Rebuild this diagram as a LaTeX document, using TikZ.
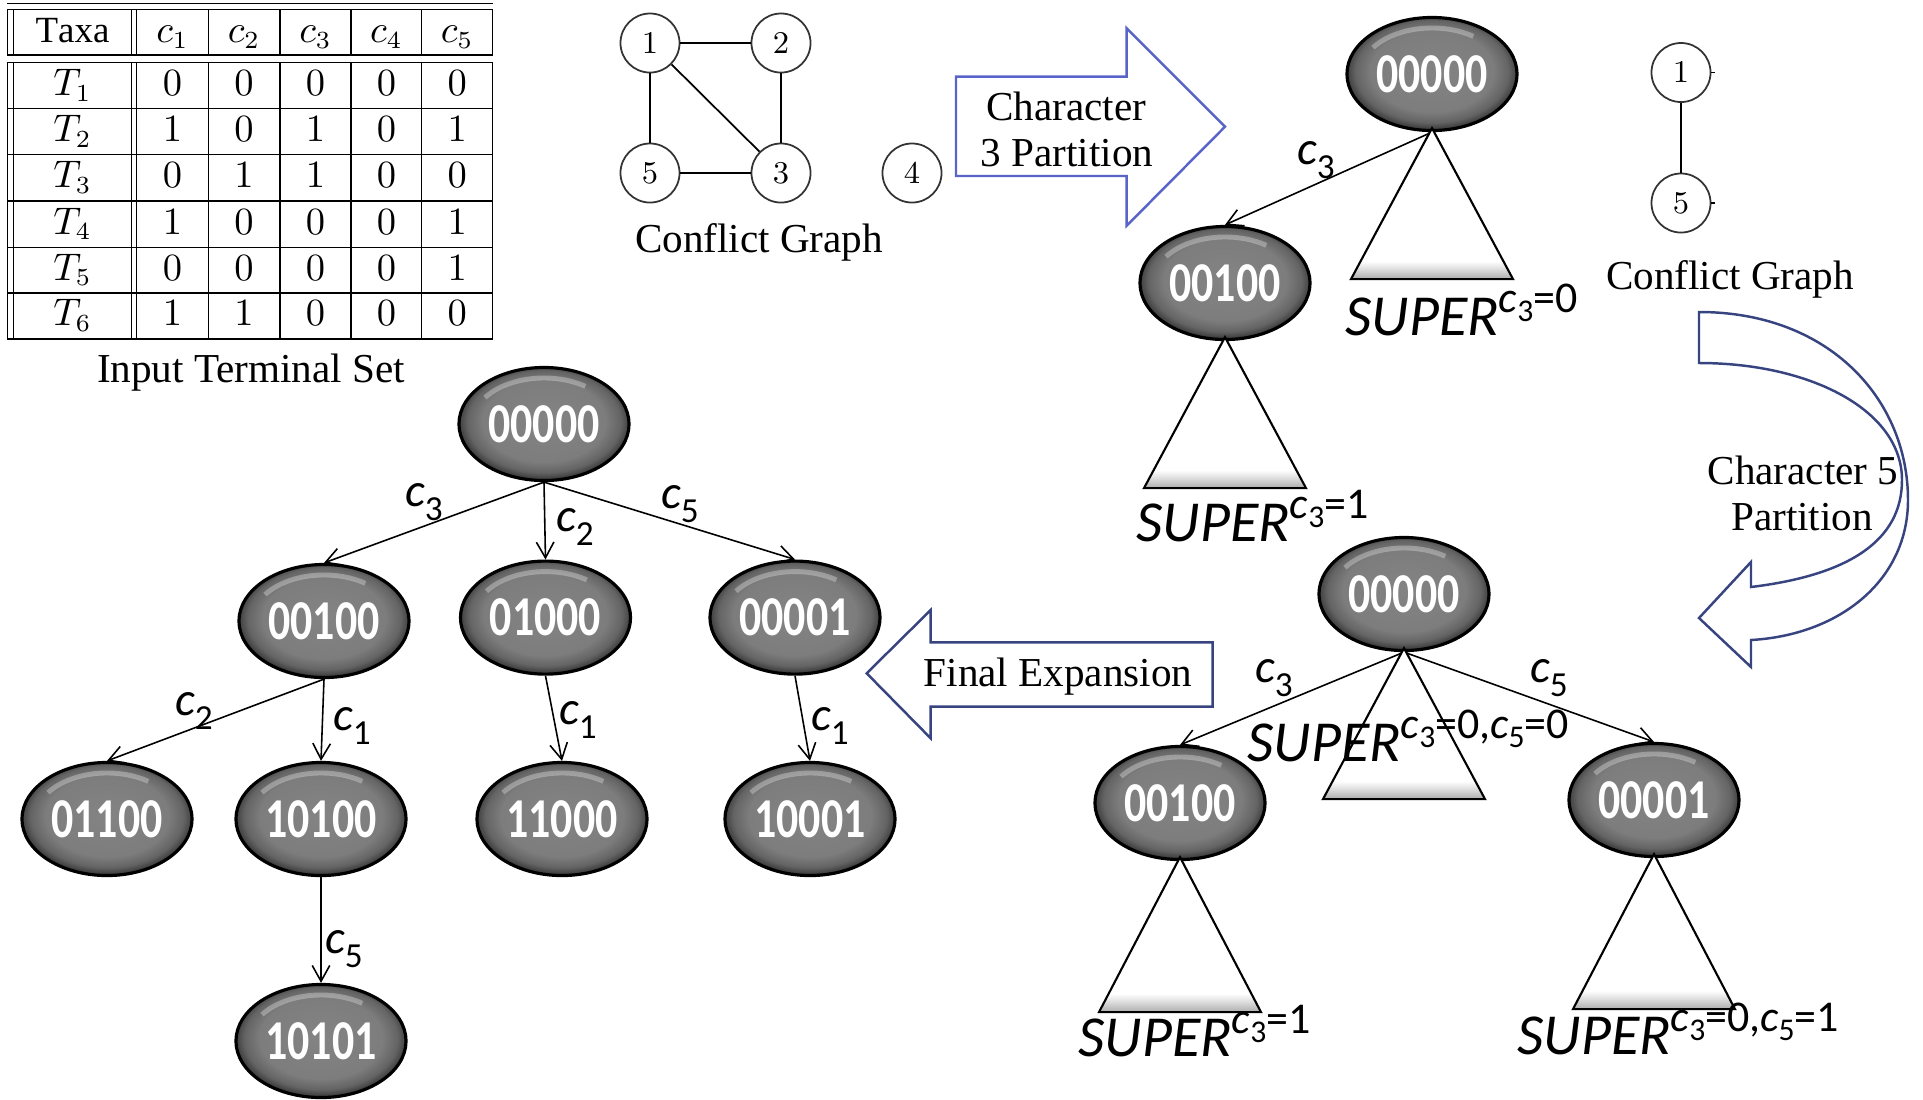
\documentclass[tikz,border=0pt]{standalone}
\usepackage{fontspec}
\setmainfont{Liberation Serif}
\newfontfamily\nodefont{Carlito}[FakeStretch=0.78]
\newfontfamily\labfont{Carlito}
\usetikzlibrary{shapes.geometric,arrows.meta,calc}
\definecolor{arrblue}{RGB}{88,100,200}
\definecolor{arrnavy}{RGB}{55,68,128}
\definecolor{nodegray}{RGB}{125,125,125}
\pgfdeclareradialshading{glossy}{\pgfpoint{0bp}{2bp}}{color(0bp)=(nodegray!95!white); color(18bp)=(nodegray); color(22.5bp)=(nodegray!80!black); color(25bp)=(black!75); color(27bp)=(black!85); color(50bp)=(black!85)}
\pgfdeclareverticalshading{tribase}{100bp}{color(0bp)=(gray!65); color(25bp)=(gray!65); color(28.5bp)=(gray!25); color(31bp)=(white); color(100bp)=(white)}
\newcommand{\clab}[1]{c\raisebox{-0.28em}{\fontsize{10}{10}\selectfont\upshape #1}}
\newcommand{\scc}[1]{{\itshape c}\raisebox{-0.22em}{\fontsize{9}{9}\selectfont #1}}
\newcommand{\superlab}[1]{{\itshape SUPER}\raisebox{6.5pt}{\fontsize{12.5}{12.5}\selectfont #1}}
\tikzset{
  gnode/.style={ellipse, draw=black, line width=0.9pt, minimum width=1.70cm, minimum height=1.13cm, inner sep=0pt,
    shade, shading=glossy, text=white, font=\nodefont\bfseries\fontsize{16}{16}\selectfont,
    path picture={\draw[white, opacity=0.3, line width=1.4pt] (path picture bounding box.center) ++(145:0.72cm and 0.46cm) arc[start angle=145, end angle=55, x radius=0.72cm, y radius=0.46cm];}},
  cnode/.style={circle, draw=black!80, line width=0.5pt, minimum size=0.59cm, inner sep=0pt, font=\fontsize{9}{9}\selectfont},
  cedge/.style={draw=black, line width=0.5pt},
  tedge/.style={draw=black, line width=0.45pt, -{Straight Barb[length=4.5pt,width=5pt]}},
  tri/.style={draw=black, line width=0.6pt, shade, shading=tribase},
  elab/.style={font=\labfont\itshape\fontsize{13.5}{13.5}\selectfont, inner sep=0pt},
  slab/.style={font=\labfont\fontsize{16.5}{16.5}\selectfont, inner sep=0pt, anchor=base west},
  txt/.style={font=\fontsize{11.7}{14}\selectfont, inner sep=0pt, align=center},
  tline/.style={draw=black, line width=0.45pt},
  tcell/.style={font=\fontsize{10.5}{12}\selectfont, inner sep=0pt, anchor=base},
  blockarr/.style={draw=arrblue, fill=white, line width=0.7pt, line join=miter},
  curvarr/.style={draw=arrnavy, fill=white, line width=0.7pt, line join=miter},
}
\begin{document}
\begin{tikzpicture}[x=0.01cm,y=-0.01cm]
\useasboundingbox (0,0) rectangle (1923,1099);
% ---------------- table ----------------
\foreach \yy in {3.3,9.3,55,62.5,108.3,154.3,201,247.3,292.7,339}
  \draw[tline] (7.3,\yy) -- (492.7,\yy);
\foreach \xx in {7.3,13.3,131.7,136.7,208.3,280,351,421.7,492.7} {
  \draw[tline] (\xx,9.3) -- (\xx,55);
  \draw[tline] (\xx,62.5) -- (\xx,339);
}
\node[tcell] (htaxa) at (72.5,42.5) {$\mathrm{Taxa}$};
\foreach \cx [count=\i] in {172.5,244,315.5,386.4,457.2}
  \node[tcell] (hc\i) at (\cx,42.5) {$c_{\i}$};
\foreach \yy/\va/\vb/\vc/\vd/\ve [count=\r] in {95.4/0/0/0/0/0, 141.3/1/0/1/0/1, 187.7/0/1/1/0/0, 234.2/1/0/0/0/1, 280/0/0/0/0/1, 325.9/1/1/0/0/0} {
  \node[tcell] (tt\r) at (72.5,\yy) {$T_{\r}$};
  \node[tcell] (ta\r) at (172.5,\yy) {$\va$};
  \node[tcell] (tb\r) at (244,\yy) {$\vb$};
  \node[tcell] (tc\r) at (315.5,\yy) {$\vc$};
  \node[tcell] (td\r) at (386.4,\yy) {$\vd$};
  \node[tcell] (te\r) at (457.2,\yy) {$\ve$};
}
\node[txt] (inset) at (251,373) {Input Terminal Set};
% ---------------- conflict graph 1 ----------------
\node[cnode] (n1) at (650,43) {$1$};
\node[cnode] (n2) at (781,43) {$2$};
\node[cnode] (n5) at (650,173) {$5$};
\node[cnode] (n3) at (781,173) {$3$};
\node[cnode] (n4) at (912,173) {$4$};
\draw[cedge] (n1) -- (n2);
\draw[cedge] (n1) -- (n5);
\draw[cedge] (n2) -- (n3);
\draw[cedge] (n5) -- (n3);
\draw[cedge] (n1) -- (n3);
\node[txt] (cg1) at (759,242) {Conflict Graph};
% ---------------- character 3 arrow ----------------
\draw[blockarr] (956,76.7) -- (1126.7,76.7) -- (1126.7,28.3) -- (1225,126.7) -- (1126.7,225.7) -- (1126.7,176) -- (956,176) -- cycle;
\node[txt] (c3a) at (1066,106) {Character};
\node[txt] (c3b) at (1067,153) {3 Partition};
% ---------------- top right tree ----------------
\node[gnode] (u0) at (1432,74) {00000};
\node[gnode] (u1) at (1225,283) {00100};
\draw[tedge] (u0.south) -- (u1.north);
\node[elab] (lu1) at (1316,160) {\clab{3}};
\draw[tri] ($(u0.south)+(0,-4)$) -- ++(81,151) -- ++(-162,0) -- cycle;
\draw[tri] ($(u1.south)+(0,-4)$) -- ++(81,151) -- ++(-162,0) -- cycle;
\node[slab] (su0) at (1345,335) {\superlab{\scc{3}=0}};
\node[slab] (su1) at (1136,541) {\superlab{\scc{3}=1}};
% ---------------- conflict graph 2 ----------------
\node[cnode] (m1) at (1681,72.5) {$1$};
\node[cnode] (m5) at (1681,203) {$5$};
\draw[cedge] (m1) -- (m5);
\draw[cedge] (m1.east) -- ++(4,0);
\draw[cedge] (m5.east) -- ++(4,0);
\node[txt] (cg2) at (1730,279) {Conflict Graph};
% ---------------- curved arrow ----------------
\draw[curvarr] (1699,312) .. controls (1830,312) and (1908,400) .. (1908,500)
  .. controls (1908,580) and (1840,635) .. (1751,640)
  -- (1751,667) -- (1699,618) -- (1751,562) -- (1751,587)
  .. controls (1850,575) and (1902,540) .. (1902,480)
  .. controls (1902,410) and (1810,363) .. (1699,363) -- cycle;
\node[txt] (c5a) at (1803,470) {Character 5};
\node[txt] (c5b) at (1802,517) {Partition};
% ---------------- bottom right tree ----------------
\node[gnode] (w0) at (1404,594) {00000};
\node[gnode] (w1) at (1180,803) {00100};
\node[gnode] (w2) at (1654,800) {00001};
\draw[tedge] (w0.south) -- (w1.north);
\draw[tedge] (w0.south) -- (w2.north);
\node[elab] (lw1) at (1274,678) {\clab{3}};
\node[elab] (lw2) at (1549,678) {\clab{5}};
\draw[tri] ($(w0.south)+(0,-4)$) -- ++(81,151) -- ++(-162,0) -- cycle;
\draw[tri] ($(w1.south)+(0,-4)$) -- ++(81,155) -- ++(-162,0) -- cycle;
\draw[tri] ($(w2.south)+(0,-4)$) -- ++(81,155) -- ++(-162,0) -- cycle;
\node[slab] (sw0) at (1247,761) {\superlab{\scc{3}=0,\scc{5}=0}};
\node[slab] (sw1) at (1078,1056) {\superlab{\scc{3}=1}};
\node[slab] (sw2) at (1517,1054) {\superlab{\scc{3}=0,\scc{5}=1}};
% ---------------- final expansion arrow ----------------
\draw[curvarr] (1212.7,642.3) -- (930.7,642.3) -- (930.7,610) -- (866.7,673.3) -- (930.7,738.3) -- (930.7,706.7) -- (1212.7,706.7) -- cycle;
\node[txt] (fexp) at (1058,677) {Final Expansion};
% ---------------- bottom left tree ----------------
\node[gnode] (r) at (544,424) {00000};
\node[gnode] (a) at (324,621) {00100};
\node[gnode] (b) at (545.5,617.6) {01000};
\node[gnode] (c) at (795,617.6) {00001};
\node[gnode] (d) at (107,819) {01100};
\node[gnode] (e) at (321,819) {10100};
\node[gnode] (f) at (562,819) {11000};
\node[gnode] (g) at (810,819) {10001};
\node[gnode] (h) at (321,1041) {10101};
\draw[tedge] (r.south) -- (a.north);
\draw[tedge] (r.south) -- (b.north);
\draw[tedge] (r.south) -- (c.north);
\draw[tedge] (a.south) -- (d.north);
\draw[tedge] (a.south) -- (e.north);
\draw[tedge] (b.south) -- (f.north);
\draw[tedge] (c.south) -- (g.north);
\draw[tedge] (e.south) -- (h.north);
\node[elab] (la) at (424,502) {\clab{3}};
\node[elab] (lb) at (575,527) {\clab{2}};
\node[elab] (lc) at (680,504) {\clab{5}};
\node[elab] (ld) at (194,711) {\clab{2}};
\node[elab] (le) at (352,726) {\clab{1}};
\node[elab] (lf) at (578,720) {\clab{1}};
\node[elab] (lg) at (830,726) {\clab{1}};
\node[elab] (lh) at (344,949) {\clab{5}};
\end{tikzpicture}
\end{document}
